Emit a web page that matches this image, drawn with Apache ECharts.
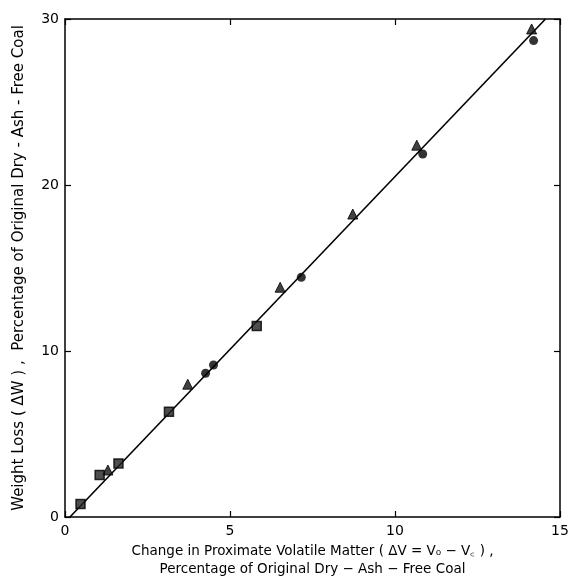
<!DOCTYPE html>
<html>
<head>
<meta charset="utf-8">
<script src="https://cdn.jsdelivr.net/npm/echarts@6/dist/echarts.min.js"></script>
<style>
  html, body { margin: 0; padding: 0; background: #fff; }
  #chart { width: 569px; height: 576px; }
</style>
</head>
<body>
<div id="chart"></div>
<script>
// data (x = change in volatile matter, y = weight loss)
const triangleX = [1.3, 3.72, 6.52, 8.72, 10.66, 14.14];
const triangleY = [2.83, 8.0, 13.84, 18.25, 22.4, 29.4];
const circleX = [4.26, 4.5, 7.16, 10.84, 14.2];
const circleY = [8.66, 9.16, 14.44, 21.87, 28.7];
const squareX = [0.47, 1.05, 1.62, 3.15, 5.81];
const squareY = [0.78, 2.53, 3.23, 6.34, 11.5];
const fitX = [0.15, 14.56];
const fitY = [0, 30];

const xTicks = [0, 5, 10, 15];
const yTicks = [0, 10, 20, 30];

const zip = (xs, ys) => xs.map((x, i) => [x, ys[i]]);

document.addEventListener('DOMContentLoaded', () => {
  const chart = echarts.init(document.getElementById('chart'));
  const font = 'DejaVu Sans';

  const baseAxis = {
    type: 'value',
    splitLine: { show: false },
    axisLine: { show: true, onZero: false, lineStyle: { color: '#000', width: 1.5 } },
    axisTick: { show: true, inside: true, length: 6, lineStyle: { color: '#000', width: 1.2 } }
  };

  const option = {
    animation: false,
    backgroundColor: '#fff',
    grid: { left: 65, right: 9, top: 19, bottom: 59, outerBoundsMode: 'none' },
    xAxis: [
      {
        ...baseAxis,
        min: xTicks[0], max: xTicks[xTicks.length - 1], interval: 5,
        axisLabel: { color: '#000', fontFamily: font, fontSize: 14, margin: 7 },
        name: 'Change in Proximate Volatile Matter ( ΔV = V₀ − V꜀ ) ,\nPercentage of Original Dry − Ash − Free Coal',
        nameLocation: 'middle',
        nameGap: 22,
        nameTextStyle: { color: '#000', fontFamily: font, fontSize: 13.5, lineHeight: 18 }
      },
      {
        ...baseAxis,
        position: 'top',
        min: xTicks[0], max: xTicks[xTicks.length - 1], interval: 5,
        axisLabel: { show: false }
      }
    ],
    yAxis: [
      {
        ...baseAxis,
        min: yTicks[0], max: yTicks[yTicks.length - 1], interval: 10,
        axisLabel: { color: '#000', fontFamily: font, fontSize: 14, margin: 6 },
        name: 'Weight Loss ( ΔW ) ,  Percentage of Original Dry - Ash - Free Coal',
        nameLocation: 'middle',
        nameGap: 38,
        nameTextStyle: { color: '#000', fontFamily: font, fontSize: 15 }
      },
      {
        ...baseAxis,
        position: 'right',
        min: yTicks[0], max: yTicks[yTicks.length - 1], interval: 10,
        axisLabel: { show: false }
      }
    ],
    series: [
      {
        name: 'fit',
        type: 'line',
        data: zip(fitX, fitY),
        symbol: 'none',
        lineStyle: { color: '#000', width: 1.6 },
        z: 2
      },
      {
        name: 'triangle',
        type: 'scatter',
        data: zip(triangleX, triangleY),
        symbol: 'triangle',
        symbolSize: 10,
        itemStyle: { color: '#111', borderColor: '#000', borderWidth: 1 },
        z: 3
      },
      {
        name: 'circle',
        type: 'scatter',
        data: zip(circleX, circleY),
        symbol: 'circle',
        symbolSize: 9,
        itemStyle: { color: '#000' },
        z: 3
      },
      {
        name: 'square',
        type: 'scatter',
        data: zip(squareX, squareY),
        symbol: 'rect',
        symbolSize: 9,
        itemStyle: { color: '#222', borderColor: '#000', borderWidth: 1.5 },
        z: 3
      }
    ]
  };

  chart.setOption(option);
});
</script>
</body>
</html>
